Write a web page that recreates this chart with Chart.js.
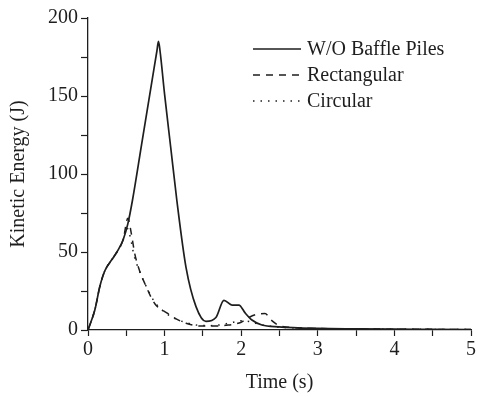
<!DOCTYPE html>
<html lang="en">
<head>
  <meta charset="UTF-8">
  <title>Kinetic Energy vs Time</title>
  <script src="https://cdn.jsdelivr.net/npm/chart.js"></script>
  <style>
    html, body { margin: 0; padding: 0; background: #fff; }
    #wrap { width: 478px; height: 397px; position: relative; }
  </style>
</head>
<body>
<div id="wrap"><canvas id="chart"></canvas></div>

<script>
  // series (time in s, energy in J)
  const seriesLabels = ['W/O Baffle Piles', 'Rectangular', 'Circular'];

  const baseT = [0, 0.09, 0.155, 0.22, 0.31, 0.39, 0.46, 0.52, 0.58, 0.7, 0.82, 0.9, 0.92, 0.94, 1.0, 1.08, 1.16, 1.28, 1.41, 1.54, 1.67, 1.775, 1.88, 1.97, 2.055, 2.14, 2.27, 2.49, 3, 3.5, 4, 4.5, 5];
  const baseV = [0, 13, 28, 38, 45, 51, 58, 68, 83, 119, 155, 179, 185, 179, 151, 117, 83, 40, 15, 5.5, 8, 19, 16, 16, 10.7, 6.4, 3.2, 2, 1, 0.7, 0.5, 0.4, 0.3];

  const rectT = [0, 0.09, 0.155, 0.22, 0.31, 0.39, 0.46, 0.52, 0.565, 0.61, 0.67, 0.74, 0.87, 1.04, 1.1, 1.28, 1.45, 1.6, 1.8, 2.0, 2.1, 2.2, 2.31, 2.4, 2.49, 2.7, 3, 3.5, 4, 4.5, 5];
  const rectV = [0, 13, 28, 38, 45, 51, 58, 71.6, 62, 49, 38.5, 30, 17, 10.6, 8.5, 4.3, 2.6, 2.5, 3, 5, 8, 10, 10.5, 6, 3, 1.5, 1, 0.7, 0.5, 0.4, 0.3];

  const circT = [0, 0.09, 0.155, 0.22, 0.31, 0.39, 0.46, 0.5, 0.55, 0.6, 0.67, 0.75, 0.87, 1.0, 1.15, 1.3, 1.45, 1.6, 1.75, 1.9, 2.0, 2.1, 2.25, 2.45, 2.7, 3, 3.5, 4, 4.5, 5];
  const circV = [0, 13, 28, 38, 45, 51, 58, 66, 60, 48, 38, 29, 18, 11.5, 7, 4.5, 3, 2.8, 3.5, 5, 6, 5.5, 3.5, 2, 1.3, 0.9, 0.6, 0.5, 0.4, 0.3];

  const xTicks = [0, 1, 2, 3, 4, 5];
  const yTicks = [0, 50, 100, 150, 200];

  const ink = '#1e1e1e';
  const font = "'Liberation Serif', 'Times New Roman', serif";

  const toPts = (ts, vs) => ts.map((t, i) => ({ x: t, y: vs[i] }));

  // legend drawn inside the plot, upper right
  const innerLegend = {
    id: 'innerLegend',
    afterDatasetsDraw(chart) {
      const ctx = chart.ctx;
      ctx.save();
      ctx.font = '20px ' + font;
      ctx.textBaseline = 'middle';
      ctx.fillStyle = ink;
      chart.data.datasets.forEach((ds, i) => {
        const y = 49 + i * 26;
        ctx.beginPath();
        ctx.setLineDash(ds.borderDash || []);
        ctx.lineWidth = ds.borderWidth;
        ctx.strokeStyle = ink;
        ctx.moveTo(253, y);
        ctx.lineTo(301, y);
        ctx.stroke();
        ctx.setLineDash([]);
        ctx.fillText(ds.label, 307, y + 1);
      });
      ctx.restore();
    }
  };

  new Chart(document.getElementById('chart'), {
    type: 'line',
    data: {
      datasets: [
        { label: seriesLabels[0], data: toPts(baseT, baseV), borderColor: ink, borderWidth: 1.7, borderDash: [], cubicInterpolationMode: 'monotone', pointRadius: 0 },
        { label: seriesLabels[1], data: toPts(rectT, rectV), borderColor: ink, borderWidth: 1.5, borderDash: [7, 6], cubicInterpolationMode: 'monotone', pointRadius: 0 },
        { label: seriesLabels[2], data: toPts(circT, circV), borderColor: ink, borderWidth: 1.5, borderDash: [1.5, 6], cubicInterpolationMode: 'monotone', pointRadius: 0 }
      ]
    },
    options: {
      responsive: true,
      maintainAspectRatio: false,
      animation: false,
      layout: { padding: { top: 18, right: 4, left: 0, bottom: 0 } },
      plugins: { legend: { display: false }, tooltip: { enabled: false } },
      scales: {
        x: {
          type: 'linear', min: 0, max: 5,
          afterFit: s => { s.height = 67; },
          afterBuildTicks: s => { s.ticks = [0, 0.5, 1, 1.5, 2, 2.5, 3, 3.5, 4, 4.5, 5].map(v => ({ value: v })); },
          ticks: {
            autoSkip: false, maxRotation: 0, padding: 2, color: ink,
            font: { family: font, size: 20 },
            callback: v => xTicks.includes(v) ? String(v) : ''
          },
          grid: { drawOnChartArea: false, drawTicks: true, tickLength: 6, tickColor: ink, tickWidth: 1.2 },
          border: { display: true, color: ink, width: 1.3 },
          title: { display: true, text: 'Time (s)', color: ink, font: { family: font, size: 20 }, padding: { top: 0, bottom: 2 } }
        },
        y: {
          type: 'linear', min: 0, max: 200,
          afterFit: s => { s.width = 88; },
          afterBuildTicks: s => { s.ticks = [0, 25, 50, 75, 100, 125, 150, 175, 200].map(v => ({ value: v })); },
          ticks: {
            autoSkip: false, padding: 3, color: ink,
            font: { family: font, size: 20 },
            callback: v => yTicks.includes(v) ? String(v) : ''
          },
          grid: { drawOnChartArea: false, drawTicks: true, tickLength: 7, tickColor: ink, tickWidth: 1.2 },
          border: { display: true, color: ink, width: 1.3 },
          title: { display: true, text: 'Kinetic Energy (J)', color: ink, font: { family: font, size: 20 }, padding: { top: 7, bottom: 0 } }
        }
      }
    },
    plugins: [innerLegend]
  });
</script>
</body>
</html>
